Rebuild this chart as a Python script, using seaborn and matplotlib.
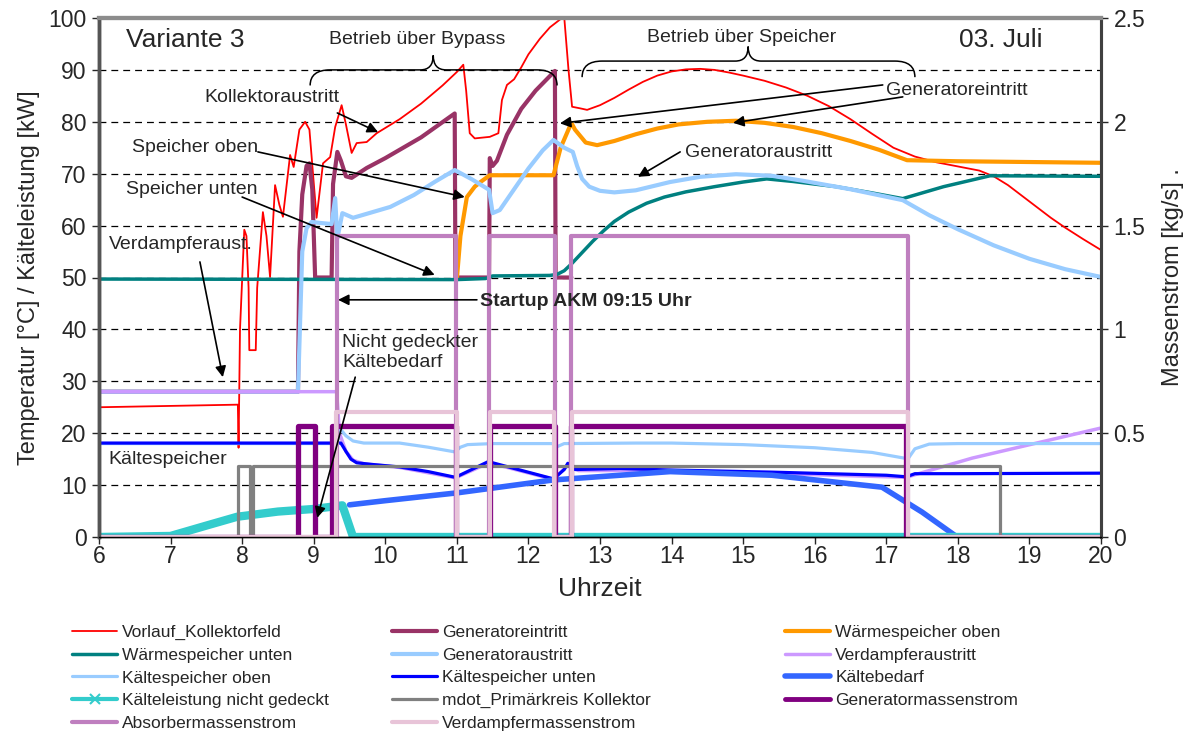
import numpy as np
import matplotlib
matplotlib.use('Agg')
import matplotlib.pyplot as plt
from matplotlib.lines import Line2D
from matplotlib.path import Path
from matplotlib.patches import PathPatch
from matplotlib.ticker import FuncFormatter
import seaborn as sns

# (Uhrzeit, Wert) pairs
vorlauf = [(6.0, 25.0), (7.94, 25.5), (7.95, 17.2), (7.97, 40.0), (8.03, 59.2), (8.06, 58.0), (8.09, 48.0),
           (8.1, 36.0), (8.19, 36.0), (8.21, 48.0), (8.29, 62.6), (8.34, 58.0), (8.39, 50.1), (8.46, 67.8),
           (8.52, 64.0), (8.57, 61.7), (8.67, 73.6), (8.72, 71.3), (8.8, 78.5), (8.88, 80.0), (8.94, 78.5),
           (9.04, 61.5), (9.13, 72.0), (9.23, 73.2), (9.3, 79.0), (9.39, 83.2), (9.45, 79.5), (9.53, 74.0),
           (9.6, 75.9), (9.74, 76.1), (9.88, 77.8), (10.2, 80.5), (10.5, 83.5), (10.8, 87.0), (11.0, 89.6),
           (11.09, 91.0), (11.13, 86.0), (11.18, 77.8), (11.25, 76.8), (11.46, 77.1), (11.58, 77.8),
           (11.63, 84.2), (11.7, 87.1), (11.8, 88.2), (11.9, 90.5), (12.0, 93.0), (12.16, 96.0),
           (12.3, 98.2), (12.45, 99.8), (12.5, 100.2), (12.56, 90.0), (12.61, 82.9), (12.72, 82.6),
           (12.82, 82.3), (13.0, 83.2), (13.2, 84.6), (13.4, 86.2), (13.6, 87.7), (13.8, 88.9), (14.0, 89.7),
           (14.2, 90.1), (14.4, 90.2), (14.6, 90.0), (14.8, 89.5), (15.0, 88.9), (15.3, 87.9), (15.6, 86.6),
           (15.9, 85.0), (16.2, 83.0), (16.5, 80.5), (16.8, 77.7), (17.1, 75.0), (17.4, 73.3), (17.7, 72.2),
           (18.0, 71.4), (18.3, 70.6), (18.5, 69.5), (18.7, 67.8), (18.9, 65.7), (19.1, 63.6), (19.3, 61.5),
           (19.5, 59.6), (19.75, 57.4), (20.0, 55.3)]
gen_ein = [(6.0, 28.0), (8.78, 28.0), (8.8, 55.0), (8.84, 66.0), (8.9, 71.5), (8.94, 72.0), (8.98, 67.0),
           (9.02, 50.0), (9.25, 50.0), (9.27, 68.0), (9.33, 74.2), (9.38, 72.5), (9.45, 69.5), (9.53, 69.2),
           (9.74, 71.1), (10.0, 73.0), (10.5, 77.0), (10.97, 81.6), (10.98, 50.0), (11.45, 50.0),
           (11.46, 73.0), (11.5, 71.5), (11.56, 72.5), (11.7, 77.5), (11.9, 82.5), (12.1, 86.0),
           (12.37, 89.8), (12.38, 50.0), (12.6, 50.0)]
waerme_oben = [(11.0, 49.7), (11.05, 58.0), (11.14, 65.5), (11.25, 67.5), (11.33, 68.4), (11.46, 69.7),
               (12.35, 69.7), (12.45, 75.0), (12.6, 79.8), (12.65, 78.5), (12.8, 76.0), (12.96, 75.5),
               (13.2, 76.3), (13.5, 77.6), (13.8, 78.7), (14.1, 79.5), (14.5, 80.0), (14.9, 80.2),
               (15.3, 79.8), (15.7, 79.0), (16.1, 77.8), (16.5, 76.3), (16.9, 74.6), (17.29, 72.6),
               (18.0, 72.4), (20.0, 72.1)]
waerme_unten = [(6.0, 49.7), (11.0, 49.6), (11.4, 49.8), (11.5, 50.3), (12.3, 50.4), (12.4, 50.6),
                (12.5, 51.3), (12.6, 52.6), (12.75, 54.8), (12.9, 57.0), (13.05, 59.0), (13.2, 60.8),
                (13.4, 62.6), (13.65, 64.3), (13.9, 65.5), (14.2, 66.5), (14.6, 67.5), (15.0, 68.4),
                (15.33, 69.0), (15.7, 68.5), (16.3, 67.5), (16.8, 66.3), (17.23, 65.2), (17.8, 67.5),
                (18.45, 69.6), (20.0, 69.5)]
gen_aus = [(6.0, 28.0), (8.78, 28.0), (8.84, 55.0), (8.9, 59.5), (8.97, 60.7), (9.1, 60.5), (9.25, 60.3),
           (9.3, 65.3), (9.33, 57.5), (9.4, 62.4), (9.55, 61.5), (10.07, 63.6), (10.4, 65.9), (10.7, 68.5),
           (10.97, 70.7), (11.2, 69.0), (11.45, 66.9), (11.5, 62.4), (11.6, 63.0), (11.8, 67.0), (12.0, 71.0),
           (12.2, 74.5), (12.35, 76.5), (12.5, 75.0), (12.62, 74.2), (12.68, 71.5), (12.75, 69.0),
           (12.85, 67.5), (13.0, 66.7), (13.2, 66.4), (13.5, 66.8), (13.98, 68.4), (14.4, 69.4),
           (14.9, 69.9), (15.4, 69.6), (15.85, 68.6), (16.5, 67.0), (17.23, 64.9), (17.6, 62.0),
           (18.0, 59.3), (18.5, 56.2), (19.0, 53.6), (19.5, 51.6), (20.0, 50.1)]
verd_aus = [(6.0, 28.0), (9.32, 28.0), (9.36, 20.0), (9.45, 16.5), (9.55, 14.8), (9.7, 14.1), (10.2, 13.4),
            (10.98, 11.4), (11.45, 14.3), (12.35, 11.1), (12.55, 13.8), (12.7, 12.8), (14.0, 12.8),
            (17.28, 11.5), (17.4, 12.0), (18.2, 15.2), (20.0, 21.0)]
ks_oben = [(6.0, 18.0), (9.33, 18.0), (9.36, 21.0), (9.45, 19.5), (9.55, 18.5), (9.7, 18.1), (10.2, 18.1),
           (10.6, 17.3), (10.97, 16.4), (11.05, 17.3), (11.15, 17.8), (11.5, 18.0), (12.35, 18.0),
           (12.4, 17.4), (12.5, 18.0), (13.5, 18.1), (14.0, 18.1), (15.0, 17.8), (16.0, 17.2), (16.8, 16.3),
           (17.25, 15.2), (17.3, 15.0), (17.4, 17.0), (17.6, 17.9), (18.0, 18.0), (20.0, 18.0)]
ks_unten = [(6.0, 18.1), (9.38, 18.1), (9.45, 16.5), (9.52, 15.0), (9.6, 14.3), (9.8, 14.0), (10.2, 13.5),
            (10.6, 12.6), (10.98, 11.5), (11.45, 14.6), (11.5, 14.3), (12.35, 11.2), (12.5, 13.0),
            (12.55, 14.2), (12.65, 13.0), (13.28, 13.2), (14.0, 12.9), (15.4, 12.5), (17.0, 11.9),
            (17.28, 11.6), (17.4, 12.2), (18.0, 12.2), (20.0, 12.3)]
kaeltebedarf = [(9.5, 6.2), (10.0, 7.0), (11.0, 8.5), (12.35, 11.0), (13.28, 11.9), (13.98, 12.6),
                (15.4, 11.9), (16.94, 9.6), (17.5, 4.8), (17.99, 0.0)]
kaelte_nicht_gedeckt = [(6.0, 0.0), (7.0, 0.2), (7.5, 2.2), (7.93, 3.9), (8.5, 4.9), (9.0, 5.4), (9.23, 5.8),
                        (9.4, 6.1), (9.55, 0.0), (20.0, 0.0)]
# Massenstroeme [kg/s], right axis
mdot_primaer = [(6.0, 0.0), (7.94, 0.0), (7.94, 0.342), (8.11, 0.342), (8.11, 0.0), (8.15, 0.0),
                (8.15, 0.342), (18.59, 0.342), (18.59, 0.0), (20.0, 0.0)]
gen_massenstrom = [(6.0, 0.0), (8.78, 0.0), (8.78, 0.535), (9.02, 0.535), (9.02, 0.0), (9.25, 0.0),
                   (9.25, 0.535), (10.99, 0.535), (10.99, 0.0), (11.47, 0.0), (11.47, 0.535),
                   (12.37, 0.535), (12.37, 0.0), (12.6, 0.0), (12.6, 0.535), (17.28, 0.535),
                   (17.28, 0.0), (20.0, 0.0)]
absorber_m = [(6.0, 0.0), (9.33, 0.0), (9.33, 1.45), (10.99, 1.45), (10.99, 0.0), (11.45, 0.0),
              (11.45, 1.45), (12.37, 1.45), (12.37, 0.0), (12.6, 0.0), (12.6, 1.45), (17.3, 1.45),
              (17.3, 0.0), (20.0, 0.0)]
verdampfer_m = [(6.0, 0.0), (9.31, 0.0), (9.31, 0.6), (11.0, 0.6), (11.0, 0.0), (11.46, 0.0),
                (11.46, 0.6), (12.36, 0.6), (12.36, 0.0), (12.61, 0.0), (12.61, 0.6), (17.31, 0.6),
                (17.31, 0.0), (20.0, 0.0)]

left_series = [
    ('Vorlauf_Kollektorfeld', vorlauf, '#FF0000', 1.3),
    ('Generatoreintritt', gen_ein, '#993366', 3.0),
    ('Wärmespeicher oben', waerme_oben, '#FF9900', 3.0),
    ('Wärmespeicher unten', waerme_unten, '#008080', 2.5),
    ('Generatoraustritt', gen_aus, '#99CCFF', 3.0),
    ('Verdampferaustritt', verd_aus, '#CC99FF', 2.5),
    ('Kältespeicher oben', ks_oben, '#99CCFF', 2.3),
    ('Kältespeicher unten', ks_unten, '#0000FF', 2.3),
    ('Kältebedarf', kaeltebedarf, '#3366FF', 4.0),
    ('Kälteleistung nicht gedeckt', kaelte_nicht_gedeckt, '#33CCCC', 6.0),
]
right_series = [
    ('mdot_Primärkreis Kollektor', mdot_primaer, '#808080', 2.3),
    ('Generatormassenstrom', gen_massenstrom, '#800080', 3.8),
    ('Absorbermassenstrom', absorber_m, '#BF7FBF', 3.0),
    ('Verdampfermassenstrom', verdampfer_m, '#E8C4D8', 3.0),
]

sns.set_style('ticks')
plt.rcParams['font.family'] = ['Liberation Sans', 'DejaVu Sans']

fig = plt.figure(figsize=(11.92, 7.35), dpi=100)
ax = fig.add_axes([99 / 1192, 1 - 537 / 735, 1002 / 1192, 519 / 735])
ax2 = ax.twinx()

for y in range(10, 100, 10):
    ax.axhline(y, color='black', lw=0.9, ls=(0, (5.5, 4)), zorder=0.5)

handles = {}
for name, pts, color, lw in left_series:
    t, v = np.array(pts).T
    sns.lineplot(x=t, y=v, ax=ax, color=color, linewidth=lw, estimator=None, sort=False)
    handles[name] = Line2D([], [], color=color, lw=lw if lw < 5 else 3.5)
handles['Kälteleistung nicht gedeckt'] = Line2D([], [], color='#33CCCC', lw=3, marker='x',
                                                markersize=7, markeredgewidth=1.5)
for name, pts, color, lw in right_series:
    t, v = np.array(pts).T
    sns.lineplot(x=t, y=v, ax=ax2, color=color, linewidth=lw, estimator=None, sort=False)
    handles[name] = Line2D([], [], color=color, lw=lw if lw < 3.5 else 3.5)

ax.set_xlim(6, 20)
ax.set_ylim(0, 100)
ax2.set_ylim(0, 2.5)
ax.set_xticks(range(6, 21))
ax.set_yticks(range(0, 101, 10))
ax2.set_yticks(np.arange(0, 2.51, 0.5))
ax2.yaxis.set_major_formatter(FuncFormatter(lambda v, p: f'{v:g}'))
ax.tick_params(axis='y', direction='out', length=5, width=1, labelsize=16.5, pad=4)
ax.tick_params(axis='x', direction='out', length=5, width=1, labelsize=16.5, pad=1)
ax2.tick_params(axis='y', direction='out', length=5, width=1, labelsize=16.5, pad=4)
ax.set_xlabel('Uhrzeit', fontsize=19, labelpad=6)
ax.set_ylabel('Temperatur [°C] / Kälteleistung [kW]', fontsize=17, labelpad=6)
ax2.set_ylabel('Massenstrom [kg/s] .', fontsize=17, labelpad=12)

for a in (ax, ax2):
    a.spines['left'].set_color('#555555')
    a.spines['left'].set_linewidth(2.5)
    a.spines['right'].set_color('#404040')
    a.spines['right'].set_linewidth(2.2)
    a.spines['top'].set_color('#8c8c8c')
    a.spines['top'].set_linewidth(3)
    a.spines['bottom'].set_color('black')
    a.spines['bottom'].set_linewidth(1)

tr = ax.transData


def brace(x0, x1, xm, y_end, y_mid, y_tip, dx=0.28, dt=0.18):
    verts = [(x0, y_end), (x0, y_mid), (x0 + dx, y_mid), (xm - dt, y_mid), (xm, y_mid), (xm, y_tip),
             (xm, y_mid), (xm + dt, y_mid), (x1 - dx, y_mid), (x1, y_mid), (x1, y_end)]
    codes = [Path.MOVETO, Path.CURVE3, Path.CURVE3, Path.LINETO, Path.CURVE3, Path.CURVE3,
             Path.CURVE3, Path.CURVE3, Path.LINETO, Path.CURVE3, Path.CURVE3]
    ax2.add_patch(PathPatch(Path(verts, codes), transform=tr, fill=False, lw=1.1, color='black', zorder=5))


brace(8.95, 12.4, 10.67, 87.0, 90.0, 92.8)
brace(12.75, 17.4, 15.07, 88.6, 91.7, 94.5)

txt = dict(transform=tr, ha='center', va='center', zorder=6)
ax2.text(6.38, 95.8, 'Variante 3', fontsize=19, **{**txt, 'ha': 'left'})
ax2.text(18.6, 95.8, '03. Juli', fontsize=19, **txt)
ax2.text(10.44, 95.8, 'Betrieb über Bypass', fontsize=14, **txt)
ax2.text(14.98, 96.3, 'Betrieb über Speicher', fontsize=14, **txt)
ax2.text(8.41, 84.6, 'Kollektoraustritt', fontsize=14, **txt)
ax2.text(7.34, 75.1, 'Speicher oben', fontsize=14, **txt)
ax2.text(7.29, 66.9, 'Speicher unten', fontsize=14, **txt)
ax2.text(7.15, 56.3, 'Verdampferaust.', fontsize=14, **txt)
ax2.text(6.96, 15.0, 'Kältespeicher', fontsize=14, **txt)
ax2.text(9.4, 35.6, 'Nicht gedeckter\nKältebedarf', fontsize=14, linespacing=1.2, **{**txt, 'ha': 'left'})
ax2.text(11.33, 45.3, 'Startup AKM 09:15 Uhr', fontsize=14, fontweight='bold', **{**txt, 'ha': 'left'})
ax2.text(17.98, 86.1, 'Generatoreintritt', fontsize=14, **txt)
ax2.text(15.22, 74.0, 'Generatoraustritt', fontsize=14, **txt)

arrows = [
    ((9.33, 81.7), (9.9, 78.0)),
    ((8.22, 74.2), (11.11, 65.5)),
    ((8.0, 65.5), (10.69, 50.5)),
    ((7.41, 53.0), (7.73, 30.8)),
    ((9.58, 30.8), (9.05, 3.7)),
    ((11.28, 45.7), (9.34, 45.7)),
    ((16.95, 87.1), (12.44, 79.7)),
    ((17.23, 84.8), (14.86, 79.8)),
    ((14.12, 74.2), (13.53, 69.4)),
]
for start, tip in arrows:
    ax2.annotate('', xy=tip, xytext=start, xycoords=tr, textcoords=tr, zorder=6,
                 arrowprops=dict(arrowstyle='-|>', color='black', lw=1.2, mutation_scale=16,
                                 shrinkA=0, shrinkB=0))

columns = [
    (72, ['Vorlauf_Kollektorfeld', 'Wärmespeicher unten', 'Kältespeicher oben',
          'Kälteleistung nicht gedeckt', 'Absorbermassenstrom']),
    (392, ['Generatoreintritt', 'Generatoraustritt', 'Kältespeicher unten',
           'mdot_Primärkreis Kollektor', 'Verdampfermassenstrom']),
    (785, ['Wärmespeicher oben', 'Verdampferaustritt', 'Kältebedarf', 'Generatormassenstrom']),
]
for xpx, names in columns:
    fig.legend([handles[n] for n in names], names, loc='upper left',
               bbox_to_anchor=(xpx / 1192, 1 - 625 / 735), frameon=False, fontsize=12.5,
               handlelength=2.6, handletextpad=0.3, labelspacing=0.43, borderpad=0, borderaxespad=0,
               numpoints=1)

fig.savefig('out.png', dpi=100)
